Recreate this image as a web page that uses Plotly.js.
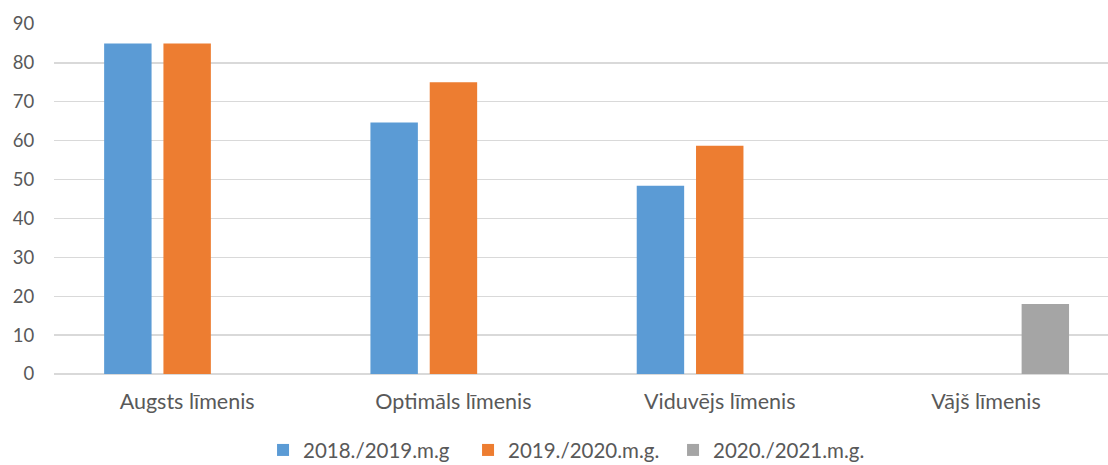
<!DOCTYPE html>
<html>
<head>
<meta charset="utf-8">
<script src="https://cdn.plot.ly/plotly-3.0.1.min.js"></script>
<style>html,body{margin:0;padding:0;background:#fff;}#chart{width:1108px;height:465px;}</style>
</head>
<body>
<div id="chart"></div>
<script>
const categories = ["Augsts līmenis", "Optimāls līmenis", "Viduvējs līmenis", "Vājš līmenis"];
const seriesNames = ["2018./2019.m.g", "2019./2020.m.g.", "2020./2021.m.g."];
const values2018 = [85, 64.7, 48.4, null];
const values2019 = [85, 75, 58.7, null];
const values2020 = [null, null, null, 18];
const colors = ["#5B9BD5", "#ED7D31", "#A5A5A5"];
const yTicks = [0, 10, 20, 30, 40, 50, 60, 70, 80, 90];

const allValues = [values2018, values2019, values2020];
const traces = allValues.map((vals, i) => ({
  type: "bar",
  name: seriesNames[i],
  x: categories,
  y: vals,
  marker: {color: colors[i]},
  hoverinfo: "x+y+name"
}));

const layout = {
  width: 1108,
  height: 465,
  margin: {l: 54, r: 0, t: 24, b: 91, pad: 0, autoexpand: false},
  paper_bgcolor: "#ffffff",
  plot_bgcolor: "#ffffff",
  font: {family: "Lato, 'Open Sans', sans-serif", color: "#595959", size: 18},
  barmode: "group",
  bargap: 0.332,
  bargroupgap: 0.2,
  showlegend: true,
  legend: {
    orientation: "h",
    xref: "container",
    yref: "container",
    x: 0.2374,
    xanchor: "left",
    y: 0.032,
    yanchor: "middle",
    entrywidthmode: "pixels",
    entrywidth: 160,
    font: {size: 20.5, color: "#595959"},
    traceorder: "normal"
  },
  xaxis: {
    type: "category",
    range: [-0.5, 3.458],
    showgrid: false,
    showline: false,
    zeroline: false,
    ticks: "outside",
    ticklen: 8,
    tickcolor: "rgba(0,0,0,0)",
    tickfont: {size: 21.5, color: "#595959"}
  },
  yaxis: {
    range: [0, 90],
    tickvals: yTicks,
    ticktext: yTicks.map(String),
    showgrid: true,
    gridcolor: "#D9D9D9",
    gridwidth: 1.3,
    zeroline: true,
    zerolinecolor: "#D9D9D9",
    zerolinewidth: 1.3,
    showline: false,
    ticks: "outside",
    ticklen: 15,
    tickcolor: "rgba(0,0,0,0)",
    tickfont: {size: 18.5, color: "#595959"}
  }
};

Plotly.newPlot("chart", traces, layout, {displayModeBar: false, staticPlot: true});
</script>
</body>
</html>
